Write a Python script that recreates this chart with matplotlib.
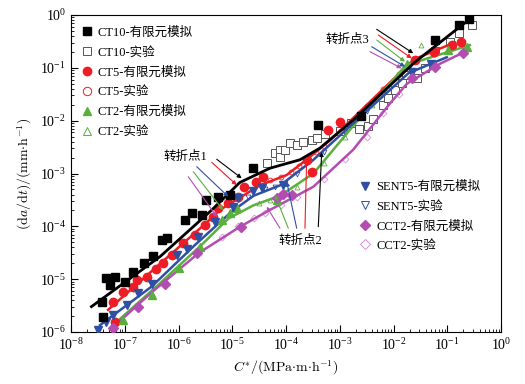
import numpy as np
import matplotlib
matplotlib.use("Agg")
import matplotlib.pyplot as plt
from matplotlib.lines import Line2D
from matplotlib.ticker import FixedLocator, LogLocator, NullFormatter

plt.rcParams['font.family'] = ['Liberation Serif', 'Noto Sans CJK SC', 'DejaVu Serif']
plt.rcParams['mathtext.fontset'] = 'cm'

# ---------------- data (log10 values) ----------------
# CT10
ct10_fe_lgC = [-7.40, -7.42, -7.34, -7.27, -7.18, -7.00, -6.84, -6.65, -6.47, -6.31, -6.22,
               -5.88, -5.75, -5.57, -5.48, -5.26, -5.04, -4.61, -3.40, -2.60, -1.23, -0.79, -0.60]
ct10_fe_lgR = [-5.71, -5.43, -4.98, -5.11, -4.95, -5.05, -4.86, -4.70, -4.57, -4.26, -4.23,
               -3.88, -3.75, -3.79, -3.50, -3.44, -3.41, -2.90, -2.08, -1.92, -0.47, -0.18, -0.08]
ct10_ex_lgC = [-4.36, -4.20, -4.11, -4.11, -4.02, -3.93, -3.80, -3.68, -3.52, -3.43, -3.28,
               -3.00, -2.80, -2.65, -2.47, -2.38, -2.19, -2.10, -1.97, -1.85, -1.76, -1.57,
               -1.41, -1.23, -0.95, -0.79, -0.54]
ct10_ex_lgR = [-2.81, -2.62, -2.56, -2.68, -2.55, -2.43, -2.46, -2.40, -2.37, -2.33, -2.25,
               -2.20, -2.05, -2.15, -2.11, -1.96, -1.70, -1.58, -1.42, -1.29, -1.14, -1.20,
               -1.01, -0.69, -0.51, -0.35, -0.19]
ct10_fit_lgC = [-7.62, -6.34, -5.38, -4.86, -4.30, -3.74, -3.37, -2.75, -1.60, -0.61]
ct10_fit_lgR = [-5.52, -4.57, -3.69, -3.17, -2.90, -2.74, -2.52, -1.99, -0.89, -0.10]

# CT5
ct5_fe_lgC = [-7.18, -7.21, -7.03, -6.84, -6.78, -6.59, -6.41, -6.28, -6.13, -5.91, -5.69,
              -5.51, -5.35, -5.26, -5.07, -4.89, -4.79, -4.55, -4.42, -3.61, -3.52, -3.21,
              -3.00, -1.60, -1.25, -0.92, -0.75]
ct5_fe_lgR = [-5.81, -5.43, -5.24, -5.14, -5.02, -4.95, -4.80, -4.70, -4.54, -4.32, -4.16,
              -3.98, -3.82, -3.66, -3.56, -3.44, -3.25, -3.16, -3.06, -2.74, -2.97, -2.18,
              -2.02, -0.85, -0.70, -0.57, -0.52]
ct5_ex_lgC = [-4.30, -4.10, -3.90, -3.75, -3.45, -3.30, -2.90, -2.50, -2.20, -1.90]
ct5_ex_lgR = [-3.12, -3.06, -2.98, -2.85, -2.60, -2.48, -2.10, -1.72, -1.40, -1.12]
ct5_fit_lgC = [-7.31, -6.50, -5.50, -5.23, -4.48, -3.99, -3.62, -3.18, -2.75, -1.62, -0.86]
ct5_fit_lgR = [-5.58, -4.85, -3.95, -3.69, -3.22, -3.03, -2.74, -2.37, -1.95, -0.84, -0.52]

# CT2
ct2_fe_lgC = [-7.03, -6.50, -6.00, -5.60, -5.20, -5.04, -4.92, -4.17, -1.75, -0.98, -0.64]
ct2_fe_lgR = [-5.77, -5.30, -4.78, -4.40, -3.88, -3.75, -3.66, -3.50, -0.93, -0.66, -0.60]
ct2_ex_lgC = [-4.50, -4.30, -4.00, -3.80, -3.30, -2.90, -2.40, -2.10, -1.48]
ct2_ex_lgR = [-3.55, -3.50, -3.38, -3.25, -2.80, -2.30, -1.70, -1.38, -0.57]
ct2_fit_lgC = [-7.15, -6.38, -5.57, -5.07, -4.60, -4.11, -3.49, -2.75, -1.77, -0.58]
ct2_fit_lgR = [-5.81, -5.11, -4.35, -3.85, -3.60, -3.42, -3.00, -2.10, -0.95, -0.57]

# SENT5
sent5_fe_lgC = [-7.49, -7.34, -7.21, -6.96, -6.75, -6.50, -6.03, -5.85, -5.63, -5.32, -4.98,
                -4.89, -4.61, -4.45, -4.05, -1.66, -1.30]
sent5_fe_lgR = [-5.96, -5.81, -5.68, -5.49, -5.27, -5.10, -4.54, -4.42, -4.20, -3.91, -3.63,
                -3.47, -3.34, -3.28, -3.22, -1.07, -0.92]
sent5_ex_lgC = [-4.70, -4.40, -4.20, -3.80, -3.30, -2.90, -2.50, -2.20]
sent5_ex_lgR = [-3.45, -3.30, -3.25, -3.00, -2.60, -2.20, -1.82, -1.50]
sent5_fit_lgC = [-7.46, -6.50, -5.69, -5.01, -4.60, -4.10, -3.50, -2.75, -1.72, -1.01]
sent5_fit_lgR = [-5.87, -5.14, -4.35, -3.72, -3.42, -3.22, -2.75, -2.05, -1.10, -0.80]

# CCT2
cct2_fe_lgC = [-7.21, -6.75, -6.25, -5.66, -4.83, -4.17, -4.05, -3.88, -1.65, -1.23, -0.70]
cct2_fe_lgR = [-5.93, -5.52, -5.10, -4.51, -4.02, -3.47, -3.38, -3.41, -1.20, -0.98, -0.71]
cct2_ex_lgC = [-5.20, -4.90, -4.60, -4.40, -4.10, -3.80, -3.30, -2.90, -2.50, -2.20, -1.90]
cct2_ex_lgR = [-4.20, -4.00, -3.85, -3.75, -3.60, -3.45, -3.10, -2.72, -2.30, -1.85, -1.50]
cct2_fit_lgC = [-7.24, -6.50, -5.63, -4.86, -4.30, -3.49, -2.75, -2.07, -1.75, -1.13, -0.64]
cct2_fit_lgR = [-5.93, -5.25, -4.51, -4.01, -3.69, -3.25, -2.55, -1.68, -1.30, -0.92, -0.68]

labels = ['CT10-有限元模拟', 'CT10-实验', 'CT5-有限元模拟', 'CT5-实验',
          'CT2-有限元模拟', 'CT2-实验',
          'SENT5-有限元模拟', 'SENT5-实验', 'CCT2-有限元模拟', 'CCT2-实验']

x_major_exp = [-8, -7, -6, -5, -4, -3, -2, -1, 0]
y_major_exp = [-6, -5, -4, -3, -2, -1, 0]

C_BLACK = '#000000'
C_RED = '#ee1c25'
C_GREEN = '#5ab03c'
C_BLUE = '#2e4fa3'
C_PURP = '#b34db2'
C_PINK = '#d98fd6'


def p(a):
    return 10.0 ** np.asarray(a, dtype=float)


fig = plt.figure(figsize=(5.25, 3.84), dpi=100)
ax = fig.add_axes([71 / 525, 1 - 332 / 384, 430 / 525, 317 / 384])
ax.set_xscale('log')
ax.set_yscale('log')
ax.set_xlim(1e-8, 1e0)
ax.set_ylim(1e-6, 1e0)

groups = [
    (ct5_fit_lgC, ct5_fit_lgR, ct5_fe_lgC, ct5_fe_lgR, ct5_ex_lgC, ct5_ex_lgR, C_RED, 'o', C_RED),
    (ct2_fit_lgC, ct2_fit_lgR, ct2_fe_lgC, ct2_fe_lgR, ct2_ex_lgC, ct2_ex_lgR, C_GREEN, '^', C_GREEN),
    (sent5_fit_lgC, sent5_fit_lgR, sent5_fe_lgC, sent5_fe_lgR, sent5_ex_lgC, sent5_ex_lgR, C_BLUE, 'v', C_BLUE),
    (cct2_fit_lgC, cct2_fit_lgR, cct2_fe_lgC, cct2_fe_lgR, cct2_ex_lgC, cct2_ex_lgR, C_PURP, 'D', C_PINK),
]

# CT10 experimental and FE
ax.plot(p(ct10_ex_lgC), p(ct10_ex_lgR), 's', ms=5.5, mfc='white', mec='#555555', mew=0.7, zorder=2)
for fx, fy, ex, ey, xx, xy, c, m, ce in groups:
    ax.plot(p(xx), p(xy), m, ms=3.5, mfc='none', mec=ce, mew=0.6, zorder=2)
for fx, fy, ex, ey, xx, xy, c, m, ce in groups:
    ax.plot(p(fx), p(fy), '-', color=c, lw=1.8, zorder=3)
    ms = 5.0 if m == 'D' else 6.0
    ax.plot(p(ex), p(ey), m, ms=ms, color=c, mec=c, zorder=4)
ax.plot(p(ct10_fit_lgC), p(ct10_fit_lgR), '-', color=C_BLACK, lw=2.0, zorder=5)
ax.plot(p(ct10_fe_lgC), p(ct10_fe_lgR), 's', ms=5.5, color=C_BLACK, zorder=6)

# annotations (turning points)
arrow_cols = [C_BLACK, C_RED, C_BLUE, C_GREEN, C_PURP]
tp1 = [((-5.289, -2.731), (-4.824, -3.091)), ((-5.382, -2.788), (-4.917, -3.218)),
       ((-5.661, -2.871), (-5.073, -3.439)), ((-5.725, -2.966), (-5.172, -3.691)),
       ((-5.818, -3.061), (-5.284, -3.823))]
tp2 = [((-3.399, -4.007), (-3.336, -2.593)), ((-3.647, -4.037), (-3.615, -2.682)),
       ((-3.801, -4.037), (-3.987, -3.155)), ((-3.957, -4.037), (-4.205, -3.407)),
       ((-4.112, -4.037), (-4.359, -3.629))]
tp3 = [((-2.313, -0.271), (-1.632, -0.725)), ((-2.283, -0.379), (-1.661, -0.820)),
       ((-2.313, -0.473), (-1.786, -0.884)), ((-2.406, -0.600), (-1.786, -0.979)),
       ((-2.437, -0.695), (-1.848, -1.009))]
tp3_cols = [C_BLACK, C_RED, C_GREEN, C_BLUE, C_PURP]
for arrows, cols in ((tp1, arrow_cols), (tp2, arrow_cols), (tp3, tp3_cols)):
    for (s, e), c in zip(arrows, cols):
        ax.annotate('', xy=(10 ** e[0], 10 ** e[1]), xytext=(10 ** s[0], 10 ** s[1]),
                    arrowprops=dict(arrowstyle='-|>', color=c, lw=0.8,
                                    mutation_scale=6, shrinkA=0, shrinkB=0), zorder=7)
ax.text(10 ** -5.88, 10 ** -2.69, '转折点1', fontsize=9, ha='center', va='center')
ax.text(10 ** -3.74, 10 ** -4.28, '转折点2', fontsize=9, ha='center', va='center')
ax.text(10 ** -2.85, 10 ** -0.47, '转折点3', fontsize=9, ha='center', va='center')

# legends
fe_h = lambda m, c, ms=6: Line2D([], [], ls='none', marker=m, ms=ms, color=c, mec=c)
ex_h = lambda m, c, ms=6: Line2D([], [], ls='none', marker=m, ms=ms, mfc='white', mec=c, mew=0.7)
h1 = [fe_h('s', C_BLACK, 5.5), ex_h('s', '#555555', 5.5), fe_h('o', C_RED), ex_h('o', C_RED),
      fe_h('^', C_GREEN), ex_h('^', C_GREEN)]
h2 = [fe_h('v', C_BLUE), ex_h('v', C_BLUE), fe_h('D', C_PURP, 5), ex_h('D', C_PINK, 5)]
leg1 = ax.legend(h1, labels[:6], loc='upper left', bbox_to_anchor=(0.0, 0.995), frameon=False,
                 fontsize=9, handlelength=0.9, handletextpad=0.45, labelspacing=0.62,
                 borderaxespad=0.4)
ax.add_artist(leg1)
ax.legend(h2, labels[6:], loc='upper left', bbox_to_anchor=(0.648, 0.508), frameon=False,
          fontsize=9, handlelength=0.9, handletextpad=0.45, labelspacing=0.6, borderaxespad=0.4)

ax.tick_params(which='both', direction='in', top=False, right=False, labelsize=10)
ax.tick_params(which='major', length=5)
ax.tick_params(which='minor', length=2.5)
ax.xaxis.set_major_locator(FixedLocator(p(x_major_exp)))
ax.yaxis.set_major_locator(FixedLocator(p(y_major_exp)))
ax.xaxis.set_minor_locator(LogLocator(base=10, subs=np.arange(2, 10), numticks=20))
ax.yaxis.set_minor_locator(LogLocator(base=10, subs=np.arange(2, 10), numticks=20))
ax.xaxis.set_minor_formatter(NullFormatter())
ax.yaxis.set_minor_formatter(NullFormatter())

ax.set_xlabel(r'$C^{*}/(\mathrm{MPa{\cdot}m{\cdot}h^{-1}})$', fontsize=10)
ax.set_ylabel(r'$(\mathrm{d}a/\mathrm{d}t)/(\mathrm{mm{\cdot}h^{-1}})$', fontsize=10)

fig.savefig('out.png', dpi=100)
